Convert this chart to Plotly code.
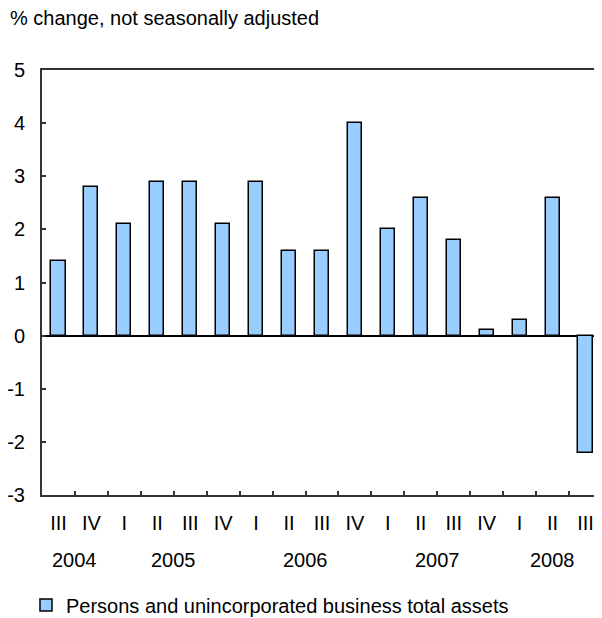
import plotly.graph_objects as go

quarters = ["III", "IV", "I", "II", "III", "IV", "I", "II", "III", "IV",
            "I", "II", "III", "IV", "I", "II", "III"]
values = [1.4, 2.8, 2.1, 2.9, 2.9, 2.1, 2.9, 1.6, 1.6, 4.0,
          2.0, 2.6, 1.8, 0.1, 0.3, 2.6, -2.2]
years = ["2004", "2005", "2006", "2007", "2008"]
year_pos = [0.5, 3.5, 7.5, 11.5, 15]
series_name = "Persons and unincorporated business total assets"
y_ticks = [-3, -2, -1, 0, 1, 2, 3, 4, 5]
y_ticktext = ["-3", "-2", "-1", "0", "1", "2", "3", "4", "5"]

FONT = "Liberation Sans, Arial, sans-serif"
x = list(range(len(values)))

fig = go.Figure()
fig.add_trace(go.Bar(
    x=x, y=values, name=series_name, width=0.43,
    marker=dict(color="#99CCFF", line=dict(color="#000000", width=1.5)),
    showlegend=True,
))

# page body has an 8px default margin, so the figure is offset by (8, 8)
fig.update_layout(
    width=594, height=610,
    margin=dict(l=34, r=0, t=62, b=123, autoexpand=False),
    paper_bgcolor="white", plot_bgcolor="white",
    font=dict(family=FONT, size=20, color="#000000"),
    showlegend=True,
    legend=dict(x=-0.0286, y=-0.259, xanchor="left", yanchor="middle",
                orientation="h", font=dict(size=20),
                itemwidth=30, bgcolor="rgba(0,0,0,0)"),
    bargap=0,
)

fig.update_xaxes(
    range=[-0.5, len(values) - 0.5], automargin=False,
    tickmode="array", tickvals=x, ticktext=quarters,
    ticks="", showgrid=False, zeroline=False,
    showline=True, linecolor="#333333", linewidth=2, mirror=True,
    ticklabelstandoff=9,
    minor=dict(tickmode="array", tickvals=[i + 0.5 for i in range(len(values) - 1)],
               ticks="inside", ticklen=4, tickcolor="#333333", tickwidth=1.5,
               showgrid=False),
)
fig.update_yaxes(
    range=[-3, 5], automargin=False,
    tickmode="array", tickvals=y_ticks, ticktext=y_ticktext,
    ticks="inside", ticklen=4, tickcolor="#333333", tickwidth=1.5,
    showgrid=False, zeroline=True, zerolinecolor="#000000", zerolinewidth=1.5,
    showline=True, linecolor="#333333", linewidth=2,
    ticklabelstandoff=11,
)

for yr, pos in zip(years, year_pos):
    fig.add_annotation(x=pos, y=-0.153, xref="x", yref="paper", text=yr,
                       showarrow=False, xanchor="center", yanchor="middle",
                       font=dict(size=20))

fig.add_annotation(x=-0.0607, y=1.122, xref="paper", yref="paper",
                   text="% change, not seasonally adjusted",
                   showarrow=False, xanchor="left", yanchor="middle", font=dict(size=20))

fig.write_html("out.html")
